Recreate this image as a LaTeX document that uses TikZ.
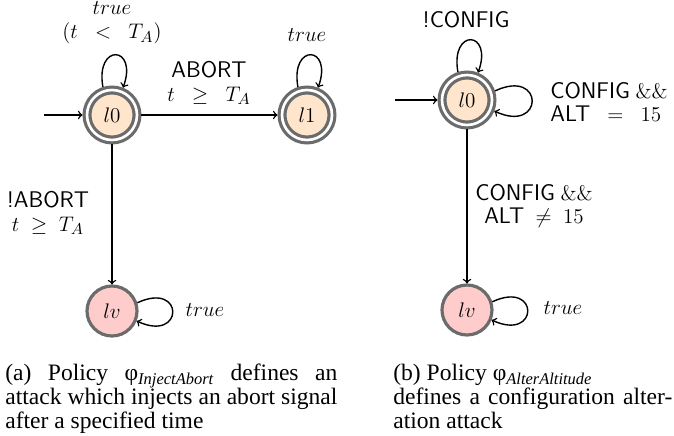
\documentclass[tikz,border=0pt]{standalone}
\usepackage{amsmath}
\usepackage[no-math]{fontspec}
\setmainfont{Liberation Serif}
\usetikzlibrary{calc}

\begin{document}
\begin{tikzpicture}[
    dfont/.style = {font=\fontsize{12.9}{13.5}\selectfont},
    loc/.style = {circle, dfont, draw=black!58, line width=1.8pt, double=white,
        double distance=1.5pt, fill=orange!20, minimum size=1cm, inner sep=0pt, outer sep=2.55pt},
    bad/.style = {circle, dfont, draw=black!58, line width=1.8pt, fill=red!20,
        minimum size=1cm, inner sep=0pt},
    lbl/.style = {dfont, align=center, inner sep=0pt},
    arr/.style = {->, line width=0.8pt},
    captext/.style = {font=\fontsize{13.4}{13.6}\selectfont, align=justify, inner sep=0pt, anchor=north west}
]
\useasboundingbox (0,0) rectangle (13.48,-8.72);

% self loops drawn from anchor to anchor
\newcommand{\uploop}[1]{\draw[arr] (#1.108) .. controls ($(#1.108)+(100:0.9)$)
    and ($(#1.68)+(70:0.9)$) .. (#1.68);}
\newcommand{\rtloop}[2]{\draw[arr] (#1.18) .. controls ($(#1.18)+(25:#2)$)
    and ($(#1.-22)+(-25:#2)$) .. (#1.-22);}

% InjectAbort automaton
\node[loc] (l0a) at (2.24,-2.3) {$l0$};
\node[loc] (l1a) at (6.14,-2.3) {$l1$};
\node[bad] (lva) at (2.24,-6.22) {$lv$};
\coordinate (ia) at (0.88,-2.3);

\draw[arr] (ia) -- (l0a);
\draw[arr] (l0a) -- (l1a);
\draw[arr] (l0a) -- (lva);
\uploop{l0a}
\uploop{l1a}
\rtloop{lva}{1.05}

\node[lbl] (g0a) at (2.24,-0.46) {$true$\\$(t \ \ < \ \ T_A)$};
\node[lbl] (g01) at (4.18,-1.66) {\textsf{ABORT}\\$t \ \ \geq \ \ T_A$};
\node[lbl] (g1a) at (6.14,-0.7) {$true$};
\node[lbl] (g0v) at (0.96,-4.26) {\textsf{!ABORT}\\$t \ \geq \ T_A$};
\node[lbl] (gva) at (4.1,-6.2) {$true$};

\node[captext, text width=6.64cm] (capa) at (0.1,-7.28)
    {(a) Policy φ\textsubscript{\itshape InjectAbort} defines an\linebreak
     attack which injects an abort signal\linebreak after a specified time};

% AlterAltitude automaton
\node[loc] (l0b) at (9.34,-2) {$l0$};
\node[bad] (lvb) at (9.34,-6.2) {$lv$};
\coordinate (ib) at (7.9,-2);

\draw[arr] (ib) -- (l0b);
\draw[arr] (l0b) -- (lvb);
\uploop{l0b}
\rtloop{l0b}{1.1}
\rtloop{lvb}{1.05}

\node[lbl] (g0b) at (9.32,-0.4) {\textsf{!CONFIG}};
\node[lbl, anchor=west, align=left] (g00b) at (11,-2.04)
    {\textsf{CONFIG} $\&\&$\\\textsf{ALT} $\ \ = \ \ 15$};
\node[lbl] (g0vb) at (10.68,-4.12) {\textsf{CONFIG} $\&\&$\\\textsf{ALT} $\ \neq \ 15$};
\node[lbl] (gvb) at (11.26,-6.16) {$true$};

\node[captext, text width=5.58cm] (capb) at (7.86,-7.28)
    {(b) Policy φ\textsubscript{\itshape AlterAltitude}\newline
     defines a configuration alter-\linebreak ation attack};

\end{tikzpicture}
\end{document}
